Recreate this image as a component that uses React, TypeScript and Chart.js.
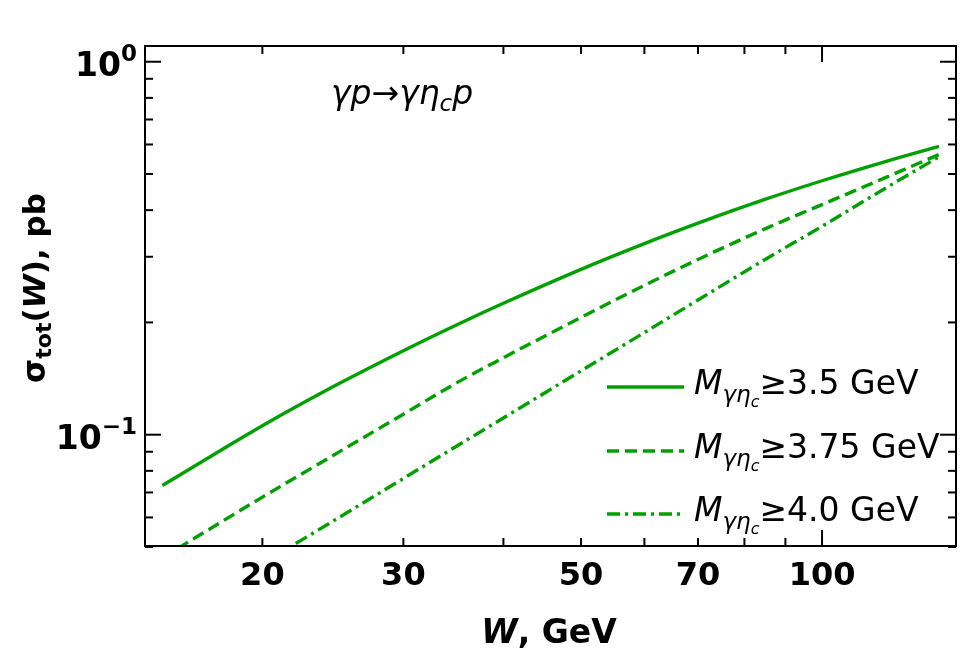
import React, { useEffect, useRef } from "react";
import { Chart, registerables } from "chart.js";
Chart.register(...registerables);

// ---- data ----
const W_GEV = [15, 17.5, 20, 25, 30, 35, 40, 50, 60, 70, 85, 100, 120, 140];
const SIGMA_M35 = [0.0731, 0.0892, 0.1057, 0.1375, 0.168, 0.1972, 0.2251, 0.2776, 0.3254, 0.3692, 0.428, 0.4796, 0.54, 0.593];
const SIGMA_M375 = [0.0468, 0.0572, 0.068, 0.0902, 0.1135, 0.1379, 0.1608, 0.2063, 0.2515, 0.295, 0.357, 0.414, 0.489, 0.564];
const SIGMA_M40 = [0.031, 0.0379, 0.0451, 0.0602, 0.0763, 0.0933, 0.1109, 0.1483, 0.1879, 0.2297, 0.2955, 0.362, 0.458, 0.556];
const SERIES_CUTS = ["3.5", "3.75", "4.0"];

const X_MIN = 14.27;
const X_MAX = 147.0;
const Y_MIN = 0.0503;
const Y_MAX = 1.102;

const X_TICK_LABELS = [20, 30, 50, 70, 100];
const X_MINOR = [20, 30, 40, 50, 60, 70, 80, 90];
const X_MAJOR = [100];
const Y_MINOR = [0.05, 0.06, 0.07, 0.08, 0.09, 0.2, 0.3, 0.4, 0.5, 0.6, 0.7, 0.8, 0.9];
const Y_MAJOR = [1, 0.1];
const Y_MAJOR_EXP = ["0", "\u22121"];

const GREEN = "#00a000";
const FAM = '"DejaVu Sans", "Noto Sans", sans-serif';

type Part = { t: string; font: string; dy?: number };

function richWidth(ctx: CanvasRenderingContext2D, parts: Part[]) {
  let w = 0;
  for (const p of parts) {
    ctx.font = p.font;
    w += ctx.measureText(p.t).width;
  }
  return w;
}
function drawRich(ctx: CanvasRenderingContext2D, parts: Part[], x: number, y: number) {
  let cx = x;
  for (const p of parts) {
    ctx.font = p.font;
    ctx.fillText(p.t, cx, y + (p.dy || 0));
    cx += ctx.measureText(p.t).width;
  }
  return cx;
}

const decorPlugin = {
  id: "decor",
  afterDraw(chart: any) {
    const { ctx, chartArea: a, scales } = chart;
    const xs = scales.x;
    const ys = scales.y;
    ctx.save();
    ctx.strokeStyle = "#000";
    ctx.fillStyle = "#000";
    ctx.lineWidth = 2;
    ctx.lineCap = "butt";
    const seg = (x1: number, y1: number, x2: number, y2: number) => {
      ctx.beginPath();
      ctx.moveTo(x1, y1);
      ctx.lineTo(x2, y2);
      ctx.stroke();
    };
    const MINOR = 8;
    const MAJOR = 16;
    X_MINOR.forEach((v) => {
      const p = xs.getPixelForValue(v);
      seg(p, a.bottom, p, a.bottom - MINOR);
      seg(p, a.top, p, a.top + MINOR);
    });
    X_MAJOR.forEach((v) => {
      const p = xs.getPixelForValue(v);
      seg(p, a.bottom, p, a.bottom - MAJOR);
      seg(p, a.top, p, a.top + MAJOR);
    });
    Y_MINOR.forEach((v) => {
      const p = ys.getPixelForValue(v);
      seg(a.left, p, a.left + MINOR, p);
      seg(a.right, p, a.right - MINOR, p);
    });
    Y_MAJOR.forEach((v) => {
      const p = ys.getPixelForValue(v);
      seg(a.left, p, a.left + MAJOR, p);
      seg(a.right, p, a.right - MAJOR, p);
    });
    ctx.strokeRect(a.left, a.top, a.right - a.left, a.bottom - a.top);

    // x tick labels
    ctx.textBaseline = "alphabetic";
    ctx.textAlign = "center";
    ctx.font = `bold 32px ${FAM}`;
    X_TICK_LABELS.forEach((v) => {
      ctx.fillText(String(v), xs.getPixelForValue(v), a.bottom + 39);
    });

    // y tick labels 10^n
    ctx.textAlign = "left";
    Y_MAJOR.forEach((v, i) => {
      const p = ys.getPixelForValue(v);
      const parts: Part[] = [
        { t: "10", font: `bold 33px ${FAM}` },
        { t: Y_MAJOR_EXP[i], font: `bold 23px ${FAM}`, dy: -15 },
      ];
      const w = richWidth(ctx, parts);
      drawRich(ctx, parts, a.left - 8 - w, p + 14.5);
    });

    // x axis label
    const xl: Part[] = [
      { t: "W", font: `italic bold 33px ${FAM}` },
      { t: ", GeV", font: `bold 33px ${FAM}` },
    ];
    const xlw = richWidth(ctx, xl);
    drawRich(ctx, xl, 549 - xlw / 2, 643);

    // y axis label (rotated)
    const yl: Part[] = [
      { t: "\u03c3", font: `bold 31px ${FAM}` },
      { t: "tot", font: `bold 22px ${FAM}`, dy: 6 },
      { t: "(", font: `bold 31px ${FAM}` },
      { t: "W", font: `italic bold 31px ${FAM}` },
      { t: "), pb", font: `bold 31px ${FAM}` },
    ];
    const ylw = richWidth(ctx, yl);
    ctx.save();
    ctx.translate(45, 288);
    ctx.rotate(-Math.PI / 2);
    drawRich(ctx, yl, -ylw / 2, 0);
    ctx.restore();

    // reaction annotation
    const it = `italic 33px ${FAM}`;
    const rx: Part[] = [
      { t: "\u03b3p", font: it },
      { t: "\u2192", font: `33px ${FAM}` },
      { t: "\u03b3\u03b7", font: it },
      { t: "c", font: `italic 23px ${FAM}`, dy: 7 },
      { t: "p", font: it },
    ];
    drawRich(ctx, rx, 331, 104);

    // legend
    const rowsY = [387, 451, 514];
    chart.data.datasets.forEach((ds: any, i: number) => {
      const y = rowsY[i];
      ctx.save();
      ctx.strokeStyle = ds.borderColor;
      ctx.lineWidth = ds.borderWidth;
      ctx.setLineDash(ds.borderDash || []);
      seg(607, y, 684, y);
      ctx.restore();
      const parts: Part[] = [
        { t: "M", font: `italic 33px ${FAM}` },
        { t: "\u03b3\u03b7", font: `italic 23px ${FAM}`, dy: 8 },
        { t: "c", font: `italic 16px ${FAM}`, dy: 13 },
        { t: "\u2265" + SERIES_CUTS[i] + " GeV", font: `33px ${FAM}` },
      ];
      ctx.fillStyle = "#000";
      drawRich(ctx, parts, 694, y + 7);
    });
    ctx.restore();
  },
};

export default function App() {
  const ref = useRef<HTMLCanvasElement | null>(null);
  useEffect(() => {
    if (!ref.current) return;
    const mk = (vals: number[]) => W_GEV.map((w, i) => ({ x: w, y: vals[i] }));
    const chart = new Chart(ref.current, {
      type: "line",
      data: {
        datasets: [
          { label: "M≥3.5 GeV", data: mk(SIGMA_M35), borderColor: GREEN, borderWidth: 3.4, pointRadius: 0, fill: false, cubicInterpolationMode: "monotone" },
          { label: "M≥3.75 GeV", data: mk(SIGMA_M375), borderColor: GREEN, borderWidth: 3.4, borderDash: [12, 6], pointRadius: 0, fill: false, cubicInterpolationMode: "monotone" },
          { label: "M≥4.0 GeV", data: mk(SIGMA_M40), borderColor: GREEN, borderWidth: 3.4, borderDash: [13, 5, 3, 5], pointRadius: 0, fill: false, cubicInterpolationMode: "monotone" },
        ],
      } as any,
      options: {
        animation: false,
        responsive: false,
        devicePixelRatio: 1,
        layout: { padding: { left: 145, right: 5, top: 46, bottom: 108 } },
        plugins: { legend: { display: false }, title: { display: false }, tooltip: { enabled: false } },
        scales: {
          x: { type: "logarithmic", min: X_MIN, max: X_MAX, bounds: "data", display: false },
          y: { type: "logarithmic", min: Y_MIN, max: Y_MAX, bounds: "data", display: false },
        },
      } as any,
      plugins: [decorPlugin],
    });
    return () => chart.destroy();
  }, []);
  return (
    <div style={{ position: "absolute", left: 0, top: 0, width: 961, height: 654, background: "#fff" }}>
      <canvas ref={ref} width={961} height={654} style={{ width: 961, height: 654, display: "block" }} />
    </div>
  );
}
